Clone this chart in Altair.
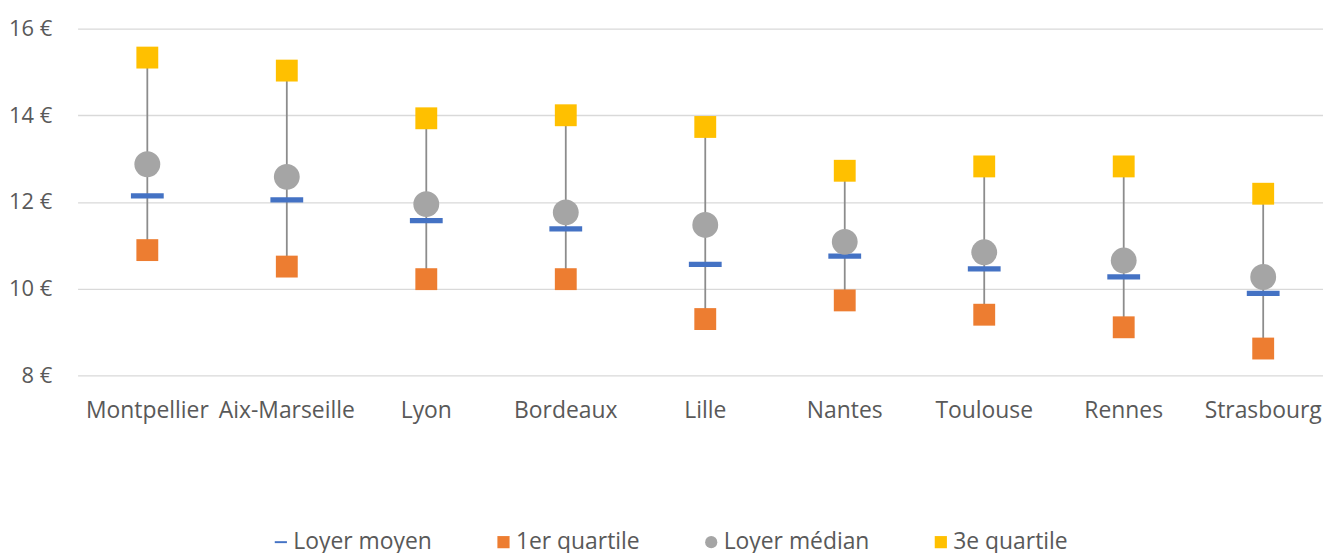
import altair as alt
import pandas as pd

cities = ["Montpellier", "Aix-Marseille", "Lyon", "Bordeaux", "Lille",
          "Nantes", "Toulouse", "Rennes", "Strasbourg"]
loyer_moyen = [12.14, 12.05, 11.57, 11.38, 10.56, 10.75, 10.46, 10.27, 9.89]
quartile_1 = [10.89, 10.51, 10.22, 10.22, 9.30, 9.73, 9.40, 9.11, 8.62]
loyer_median = [12.87, 12.58, 11.95, 11.76, 11.47, 11.08, 10.84, 10.65, 10.27]
quartile_3 = [15.33, 15.03, 13.93, 14.00, 13.73, 12.72, 12.82, 12.82, 12.19]

series_names = ["Loyer moyen", "1er quartile", "Loyer médian", "3e quartile"]
series_colors = ["#4472C4", "#ED7D31", "#A5A5A5", "#FFC000"]
dash_path = "M-1,-0.16L1,-0.16L1,0.16L-1,0.16Z"
series_shapes = [dash_path, "square", "circle", "square"]
series_sizes = [1089, 484, 676, 484]
y_ticks = [8, 10, 12, 14, 16]

FONT = "Open Sans"
TXT = "#595959"

wide = pd.DataFrame({"Ville": cities, "q1": quartile_1, "q3": quartile_3})
rows = []
for name, vals in zip(series_names, [loyer_moyen, quartile_1, loyer_median, quartile_3]):
    for c, v in zip(cities, vals):
        rows.append({"Ville": c, "Série": name, "Valeur": v})
long = pd.DataFrame(rows)

x_scale = alt.Scale(domain=cities, paddingInner=0, paddingOuter=0, rangeMin=0, rangeMax=1263)
x_enc = alt.X("Ville:N", sort=cities, title=None, scale=x_scale,
              axis=alt.Axis(labelAngle=0, domain=False, ticks=False, labelPadding=24,
                            labelFont=FONT, labelFontSize=23, labelColor=TXT, grid=False))
y_scale = alt.Scale(domain=[8, 16], nice=False, zero=False)

rule = alt.Chart(wide).mark_rule(color="#8C8C8C", strokeWidth=1.8).encode(
    x=x_enc,
    y=alt.Y("q1:Q", scale=y_scale, title=None,
            axis=alt.Axis(values=y_ticks, labelExpr="datum.value + ' €'", domain=False,
                          ticks=False, labelPadding=26, labelFont=FONT, labelFontSize=22,
                          labelColor=TXT, gridColor="#D9D9D9", gridWidth=1.3)),
    y2="q3:Q",
)

color = alt.Color("Série:N", scale=alt.Scale(domain=series_names, range=series_colors),
                  legend=alt.Legend(title=None, orient="none", legendX=193, legendY=505,
                                    direction="horizontal", columns=4, columnPadding=60,
                                    labelFont=FONT, labelFontSize=23, labelColor=TXT,
                                    symbolSize=150, labelOffset=1, padding=0,
                                    symbolStrokeWidth=0))
shape = alt.Shape("Série:N", scale=alt.Scale(domain=series_names, range=series_shapes))

layers = [rule]
for name, size in zip(series_names, series_sizes):
    layers.append(
        alt.Chart(long).transform_filter(alt.datum["Série"] == name)
        .mark_point(filled=True, opacity=1, size=size, strokeWidth=0)
        .encode(x=alt.X("Ville:N", sort=cities, scale=x_scale),
                y=alt.Y("Valeur:Q", scale=y_scale),
                color=color, shape=shape)
    )

chart = alt.layer(*layers).properties(
    width=1252, height=349,
    autosize=alt.AutoSizeParams(type="none"),
    padding={"left": 70, "top": 19, "right": 1, "bottom": 177},
    background="white",
).configure_view(stroke=None)

chart.save("out.html", embed_options={"renderer": "svg", "actions": False})
